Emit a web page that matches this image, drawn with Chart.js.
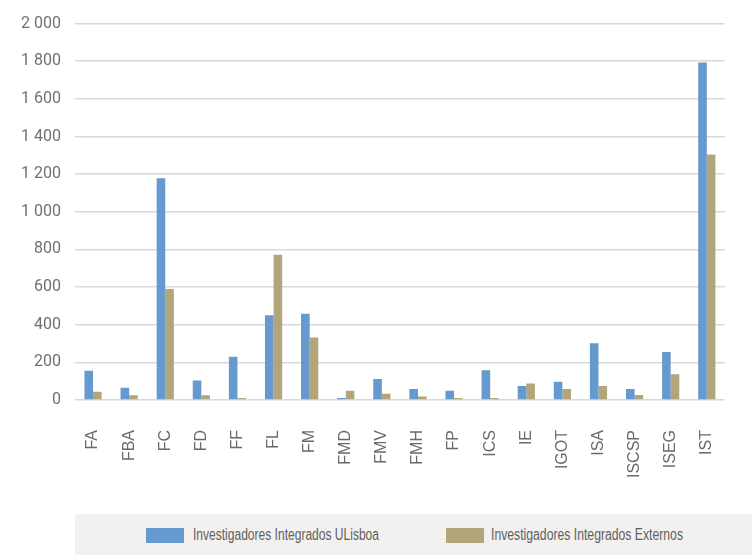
<!DOCTYPE html>
<html>
<head>
<meta charset="utf-8">
<script src="https://cdn.jsdelivr.net/npm/chart.js@4/dist/chart.umd.min.js"></script>
<style>
  html, body { margin: 0; padding: 0; overflow: hidden; background: #ffffff; width: 752px; height: 555px; }
  #wrap { position: relative; width: 752px; height: 555px; overflow: hidden; }
  #c { position: absolute; left: 0; top: 0; }
  #legend { position: absolute; left: 75px; top: 514px; width: 677px; height: 41px; background: #f2f1ef; }
  .sw { position: absolute; top: 14px; width: 38px; height: 15px; }
  .lt { position: absolute; top: 9px; font-family: "Liberation Sans", Arial, sans-serif; font-size: 16px; line-height: 24px; color: #5f5f5f; white-space: nowrap; transform-origin: 0 50%; display: inline-block; }
</style>
</head>
<body>
<div id="wrap">
  <canvas id="c" width="756" height="514"></canvas>
  <div id="legend">
    <div class="sw" id="sw1" style="left:71px;"></div>
    <span class="lt" id="lt1" style="left:118px;"></span>
    <div class="sw" id="sw2" style="left:371px;"></div>
    <span class="lt" id="lt2" style="left:416px;"></span>
  </div>
</div>
<script>
const categories = ["FA","FBA","FC","FD","FF","FL","FM","FMD","FMV","FMH","FP","ICS","IE","IGOT","ISA","ISCSP","ISEG","IST"];
const seriesNames = ["Investigadores Integrados ULisboa", "Investigadores Integrados Externos"];
const ulisboa = [155, 65, 1178, 104, 230, 450, 458, 10, 111, 58, 49, 158, 74, 97, 302, 58, 255, 1793];
const externos = [44, 25, 590, 25, 10, 772, 332, 49, 33, 18, 10, 10, 88, 58, 74, 26, 137, 1305];
const yTicks = [0, 200, 400, 600, 800, 1000, 1200, 1400, 1600, 1800, 2000];

const colors = ["#6699cd", "#b3a57b"];

document.getElementById('sw1').style.background = colors[0];
document.getElementById('sw2').style.background = colors[1];
const lt1 = document.getElementById('lt1');
const lt2 = document.getElementById('lt2');
lt1.textContent = seriesNames[0];
lt2.textContent = seriesNames[1];
// condensed look: squeeze the regular face to the reference's text widths
[[lt1, 186], [lt2, 192]].forEach(([el, target]) => {
  const w = el.getBoundingClientRect().width;
  if (w > 0) el.style.transform = 'scaleX(' + (target / w) + ')';
});

function fmt(v) { return String(v).replace(/\B(?=(\d{3})+(?!\d))/g, ' '); }

new Chart(document.getElementById('c'), {
  type: 'bar',
  data: {
    labels: categories,
    datasets: [
      { label: seriesNames[0], data: ulisboa, backgroundColor: colors[0], borderWidth: 0, categoryPercentage: 0.477, barPercentage: 1.0 },
      { label: seriesNames[1], data: externos, backgroundColor: colors[1], borderWidth: 0, categoryPercentage: 0.477, barPercentage: 1.0 }
    ]
  },
  options: {
    responsive: false,
    animation: false,
    layout: { padding: { top: 21, left: 0, right: 0, bottom: 0 } },
    plugins: { legend: { display: false }, tooltip: { enabled: false } },
    scales: {
      x: {
        grid: { display: false, drawTicks: false },
        border: { display: false },
        ticks: {
          color: '#6a6a6a',
          font: { family: '"Liberation Sans", Arial, sans-serif', size: 16 },
          minRotation: 90, maxRotation: 90, padding: 30, autoSkip: false
        },
        afterFit: (a) => { a.height = 114; }
      },
      y: {
        min: 0, max: 2000,
        afterBuildTicks: (a) => { a.ticks = yTicks.map(v => ({ value: v })); },
        grid: { color: '#d9d9d9', lineWidth: 1.5, drawTicks: false },
        border: { display: false },
        ticks: {
          color: '#707070',
          font: { family: 'Roboto, sans-serif', size: 16 },
          padding: 14,
          callback: (v) => fmt(v)
        },
        afterFit: (a) => { a.width = 75; }
      }
    }
  }
});
</script>
</body>
</html>
